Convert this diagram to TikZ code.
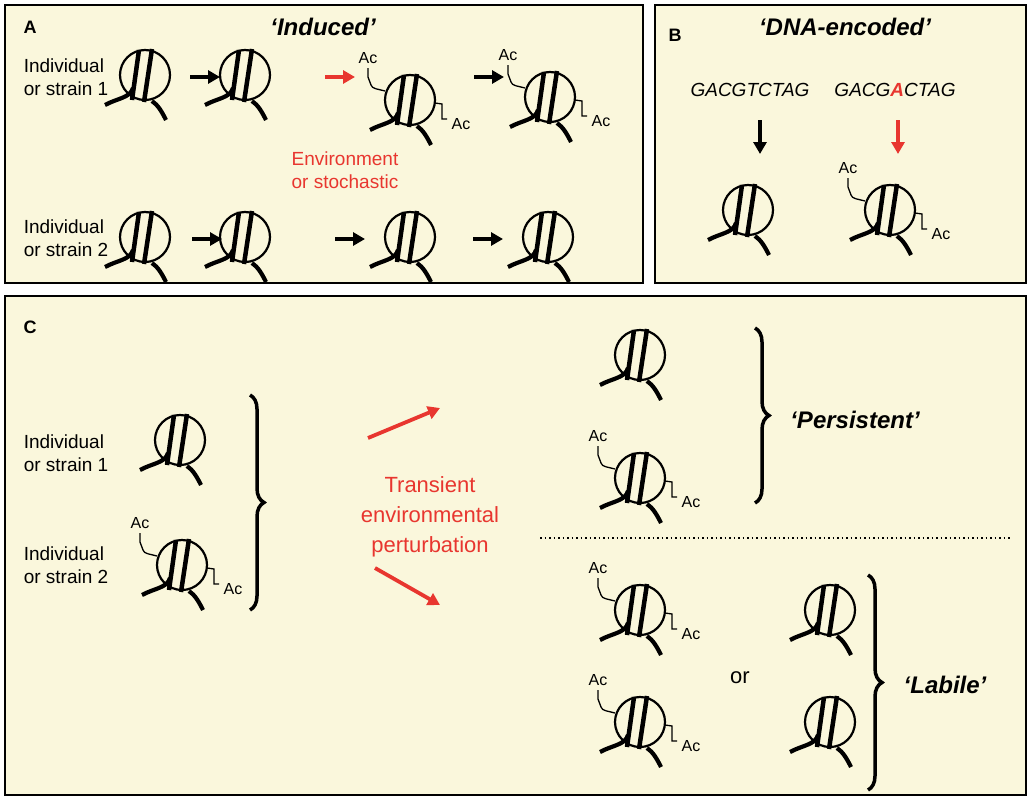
\documentclass[tikz,border=0pt]{standalone}
\usepackage{fontspec}
\setmainfont{Liberation Sans}
\usetikzlibrary{decorations.pathreplacing,arrows.meta}
\definecolor{bg}{HTML}{FAF7DC}
\definecolor{rd}{HTML}{E8362F}
\begin{document}
\begin{tikzpicture}[x=1pt,y=-1pt,
 panel/.style={draw,line width=1.6pt,fill=bg},
 lbl/.style={font=\fontsize{19}{23}\selectfont,align=left},
 ttl/.style={font=\fontsize{24}{26}\selectfont\bfseries\itshape},
 arr/.style={-{Triangle[length=12pt,width=13pt]},line width=3.8pt},
 brc/.style={decorate,decoration={brace,amplitude=14pt},line width=3.5pt},
 nuc/.pic={
  \draw[line width=2.2pt] (0,0) circle (25);
  \draw[line width=4.5pt] (-6,-25)--(-13,25) (7,-26)--(-1,27);
  \draw[line width=4.2pt] (-40,30) .. controls (-27,23) and (-15,23) .. (-12,13);
  \draw[line width=4.2pt] (7,26) .. controls (13,30) and (17,37) .. (21,45);},
 ac/.pic={
  \draw[line width=1.3pt] (-25,-9) .. controls (-32,-11) and (-38,-11) .. (-39,-15) -- (-42,-23) -- (-42,-32);
  \node[font=\fontsize{16}{18}\selectfont] at (-42,-42) {Ac};
  \draw[line width=1.3pt] (25,3) -- (32,4) -- (32,19) -- (37,19);
  \node[font=\fontsize{16}{18}\selectfont] at (51,24) {Ac};}]
\useasboundingbox (0,0) rectangle (1032,800);
\fill[white] (0,0) rectangle (1032,800);
\draw[panel] (5,5) rectangle (643,283);
\draw[panel] (655,5) rectangle (1026,283);
\draw[panel] (5,296) rectangle (1026,795);
% A
\node[font=\fontsize{18}{20}\selectfont\bfseries] (la) at (30,27) {A};
\node[ttl] (ta) at (323,27) {‘Induced’};
\node[lbl] (s1) at (66,77) {Individual\\or strain 1};
\node[lbl] (s2) at (66,238) {Individual\\or strain 2};
\pic at (145,75) {nuc};
\pic at (245,75) {nuc};
\pic at (410,100) {nuc}; \pic at (410,100) {ac};
\pic at (550,97) {nuc}; \pic at (550,97) {ac};
\pic at (145,237) {nuc};
\pic at (245,237) {nuc};
\pic at (410,237) {nuc};
\pic at (548,237) {nuc};
\coordinate (a1) at (190,77); \coordinate (a2) at (220,77);
\coordinate (a3) at (325,77); \coordinate (a4) at (355,77);
\coordinate (a5) at (474,77); \coordinate (a6) at (504,77);
\coordinate (b1) at (192,239); \coordinate (b2) at (222,239);
\coordinate (b3) at (335,239); \coordinate (b4) at (365,239);
\coordinate (b5) at (473,239); \coordinate (b6) at (503,239);
\draw[arr] (a1)--(a2); \draw[arr,rd] (a3)--(a4); \draw[arr] (a5)--(a6);
\draw[arr] (b1)--(b2); \draw[arr] (b3)--(b4); \draw[arr] (b5)--(b6);
\node[lbl,rd,align=center] (env) at (345,170) {Environment\\or stochastic};
% B
\node[font=\fontsize{18}{20}\selectfont\bfseries] (lb) at (675,35) {B};
\node[ttl] (tb) at (845,27) {‘DNA-encoded’};
\node[font=\fontsize{19}{22}\selectfont\itshape] (g1) at (750,90) {GACGTCTAG};
\node[font=\fontsize{19}{22}\selectfont\itshape] (g2) at (895,90) {GACG\textcolor{rd}{\bfseries A}CTAG};
\coordinate (c1) at (760,120); \coordinate (c2) at (760,154);
\coordinate (c3) at (898,120); \coordinate (c4) at (898,154);
\draw[arr] (c1)--(c2); \draw[arr,rd] (c3)--(c4);
\pic at (748,210) {nuc};
\pic at (890,210) {nuc}; \pic at (890,210) {ac};
% C
\node[font=\fontsize{18}{20}\selectfont\bfseries] (lc) at (30,327) {C};
\node[lbl] (t1) at (66,453) {Individual\\or strain 1};
\node[lbl] (t2) at (66,565) {Individual\\or strain 2};
\pic at (180,440) {nuc};
\pic at (182,565) {nuc}; \pic at (182,565) {ac};
\coordinate (k1) at (250,395); \coordinate (k2) at (250,610);
\draw[brc] (k1)--(k2);
\coordinate (r1) at (368,438); \coordinate (r2) at (440,408);
\coordinate (r3) at (375,568); \coordinate (r4) at (440,605);
\draw[arr,rd] (r1)--(r2); \draw[arr,rd] (r3)--(r4);
\node[rd,align=center,font=\fontsize{22}{30}\selectfont] (tp) at (430,517) {Transient\\environmental\\perturbation};
\pic at (640,355) {nuc};
\pic at (640,478) {nuc}; \pic at (640,478) {ac};
\coordinate (p1) at (755,328); \coordinate (p2) at (755,503);
\draw[brc] (p1)--(p2);
\node[ttl] (tpp) at (855,420) {‘Persistent’};
\coordinate (d1) at (540,538); \coordinate (d2) at (1012,538);
\draw[line width=1.8pt,dash pattern=on 1.5pt off 3pt] (d1)--(d2);
\pic at (640,610) {nuc}; \pic at (640,610) {ac};
\pic at (640,722) {nuc}; \pic at (640,722) {ac};
\pic at (830,610) {nuc};
\pic at (830,722) {nuc};
\node[font=\fontsize{22}{24}\selectfont] (or) at (740,678) {or};
\coordinate (q1) at (868,575); \coordinate (q2) at (868,790);
\draw[brc] (q1)--(q2);
\node[ttl] (tl) at (945,685) {‘Labile’};
\end{tikzpicture}
\end{document}
